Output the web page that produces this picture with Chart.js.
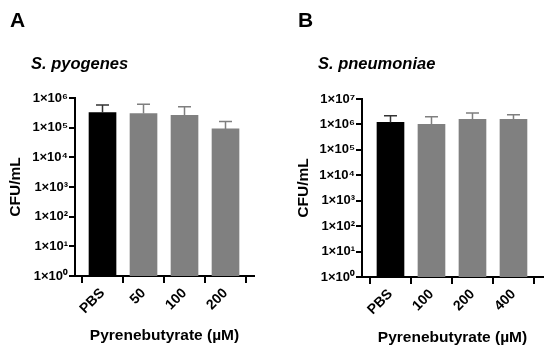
<!DOCTYPE html>
<html>
<head>
<meta charset="utf-8">
<script src="https://cdn.jsdelivr.net/npm/chart.js@4.4.1/dist/chart.umd.min.js"></script>
<style>
  body { margin: 0; background: #fff; }
  #wrap { position: relative; width: 550px; height: 353px; font-family: "Liberation Sans", Arial, sans-serif; color: #000; }
  .panel { position: absolute; top: 0; }
  .letter { position: absolute; font-weight: bold; font-size: 21px; line-height: 21px; }
  .sub { position: absolute; font-weight: bold; font-style: italic; font-size: 16.5px; line-height: 16.5px; white-space: nowrap; }
</style>
</head>
<body>
<div id="wrap">
  <div class="panel" style="left:0"><canvas id="chartA" width="275" height="353"></canvas></div>
  <div class="panel" style="left:275px"><canvas id="chartB" width="275" height="353"></canvas></div>
  <div class="letter" style="left:10px;top:9px">A</div>
  <div class="letter" style="left:298px;top:9px">B</div>
  <div class="sub" style="left:31px;top:55px">S. pyogenes</div>
  <div class="sub" style="left:318px;top:55px">S. pneumoniae</div>
</div>
<script>
// panel A - S. pyogenes
var catsA = ["PBS", "50", "100", "200"];
var meanA = [3.2e5, 3.0e5, 2.6e5, 9.1e4];
var errTopA = [5.8e5, 6.1e5, 5.1e5, 1.6e5];
var yTicksA = [1, 10, 100, 1e3, 1e4, 1e5, 1e6];
var yLabelsA = ["1×10⁰", "1×10¹", "1×10²", "1×10³", "1×10⁴", "1×10⁵", "1×10⁶"];

// panel B - S. pneumoniae
var catsB = ["PBS", "100", "200", "400"];
var meanB = [1.2e6, 1.0e6, 1.6e6, 1.6e6];
var errTopB = [2.2e6, 2.0e6, 2.8e6, 2.4e6];
var yTicksB = [1, 10, 100, 1e3, 1e4, 1e5, 1e6, 1e7];
var yLabelsB = ["1×10⁰", "1×10¹", "1×10²", "1×10³", "1×10⁴", "1×10⁵", "1×10⁶", "1×10⁷"];

var barColors = ["#000000", "#808080", "#808080", "#808080"];
var errColors = ["#333333", "#7f7f7f", "#7f7f7f", "#7f7f7f"];

// upper error bars with caps
var errorBars = {
    id: "errorBars",
    afterDatasetsDraw: function (chart) {
        var ctx = chart.ctx;
        var ds = chart.data.datasets[0];
        var meta = chart.getDatasetMeta(0);
        var y = chart.scales.y;
        ctx.save();
        ctx.lineWidth = 1.5;
        meta.data.forEach(function (bar, i) {
            var top = y.getPixelForValue(ds.errTop[i]);
            ctx.strokeStyle = errColors[i];
            ctx.beginPath();
            ctx.moveTo(bar.x, bar.y);
            ctx.lineTo(bar.x, top);
            ctx.moveTo(bar.x - 6.5, top);
            ctx.lineTo(bar.x + 6.5, top);
            ctx.stroke();
        });
        ctx.restore();
    }
};

function makeChart(id, cats, means, errTop, yTicks, yLabels, o) {
    var axisFont = { family: "'Liberation Sans', Arial", weight: "bold", size: 15.5 };
    return new Chart(document.getElementById(id), {
        type: "bar",
        data: {
            datasets: [{
                data: cats.map(function (c, i) { return { x: i, y: means[i] }; }),
                errTop: errTop,
                backgroundColor: barColors,
                borderWidth: 0,
                barThickness: 27
            }]
        },
        options: {
            responsive: false,
            animation: false,
            devicePixelRatio: 1,
            layout: { padding: { top: o.top, right: o.right, left: 0, bottom: 0 } },
            plugins: { legend: { display: false }, tooltip: { enabled: false } },
            scales: {
                x: {
                    type: "linear",
                    offset: false,
                    min: o.xmin,
                    max: o.xmax,
                    afterBuildTicks: function (s) { s.ticks = cats.map(function (c, i) { return { value: i }; }); },
                    afterFit: function (s) { s.height = 353 - o.bottom; s.paddingLeft = 0; s.paddingRight = 0; },
                    border: { color: "#000", width: 2 },
                    grid: { drawOnChartArea: false, drawTicks: true, tickLength: 7, lineWidth: 2, color: "#000" },
                    ticks: {
                        autoSkip: false, minRotation: 45, maxRotation: 45, padding: 2, color: "#000",
                        font: { family: "'Liberation Sans', Arial", weight: "bold", size: 14 },
                        callback: function (v) { return cats[v]; }
                    },
                    title: { display: true, text: "Pyrenebutyrate (µM)", color: "#000", font: axisFont, padding: { top: 0, bottom: o.xtPad } }
                },
                y: {
                    type: "logarithmic",
                    min: yTicks[0],
                    max: yTicks[yTicks.length - 1],
                    afterBuildTicks: function (s) { s.ticks = yTicks.map(function (v) { return { value: v }; }); },
                    afterFit: function (s) { s.width = o.left; s.paddingTop = 0; s.paddingBottom = 0; },
                    border: { color: "#000", width: 2 },
                    grid: { drawOnChartArea: false, drawTicks: true, tickLength: 6, lineWidth: 2, color: "#000" },
                    ticks: {
                        padding: 1, color: "#000",
                        font: { family: "'Liberation Sans', Arial", weight: "bold", size: 13 },
                        callback: function (v, i) { return yLabels[i]; }
                    },
                    title: { display: true, text: "CFU/mL", color: "#000", font: axisFont, padding: { top: o.ytPad, bottom: 0 } }
                }
            }
        },
        plugins: [errorBars]
    });
}

makeChart("chartA", catsA, meanA, errTopA, yTicksA, yLabelsA,
    { left: 75, right: 21, top: 98, bottom: 276, xmin: -0.671, xmax: 3.695, xtPad: 8, ytPad: 6 });
makeChart("chartB", catsB, meanB, errTopB, yTicksB, yLabelsB,
    { left: 87, right: 7, top: 99, bottom: 277, xmin: -0.695, xmax: 3.72, xtPad: 6, ytPad: 19 });
</script>
</body>
</html>
